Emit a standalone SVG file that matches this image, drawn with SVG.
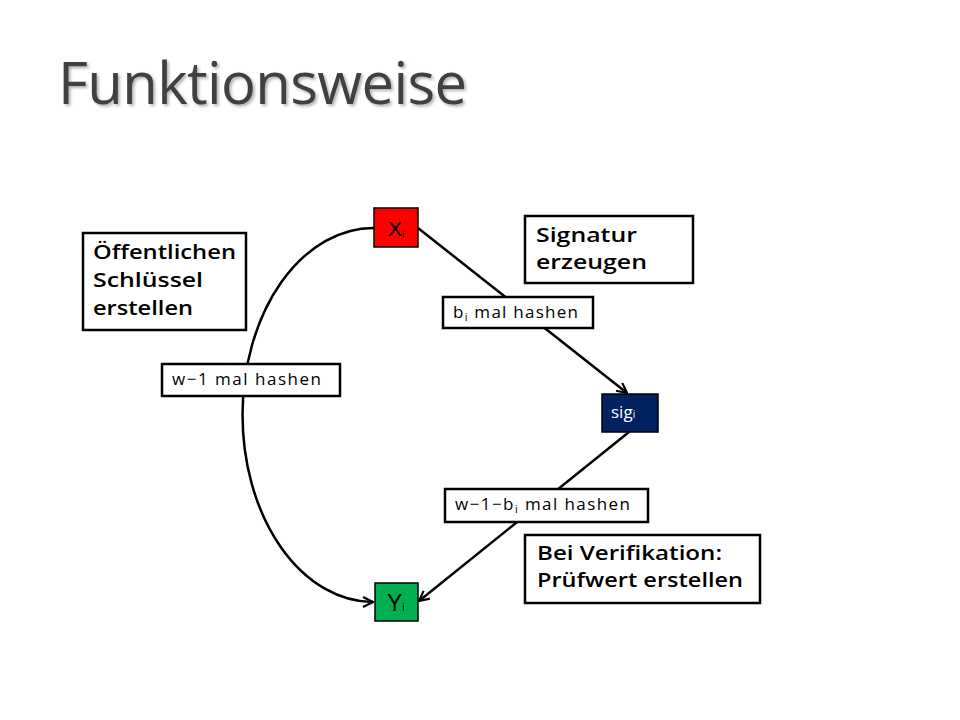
<svg xmlns="http://www.w3.org/2000/svg" width="960" height="720" viewBox="0 0 960 720">
<defs>
<marker id="arr" viewBox="0 0 12 12" refX="11" refY="6" markerWidth="12" markerHeight="12" markerUnits="userSpaceOnUse" orient="auto">
<path d="M1,1 L11,6 L1,11" fill="none" stroke="#000" stroke-width="2.2"/>
</marker>
<filter id="shadow" x="-5%" y="-20%" width="110%" height="140%">
<feDropShadow dx="2" dy="2" stdDeviation="1.5" flood-color="#000" flood-opacity="0.3"/>
</filter>
</defs>
<style>
.box{fill:#fff;stroke:#000;stroke-width:2.5}
.big{font-family:"Open Sans","DejaVu Sans",sans-serif;font-size:20px;font-weight:600;fill:#000}
.sm{font-family:"Open Sans","DejaVu Sans",sans-serif;font-size:17px;fill:#000}
.node{stroke:#000;stroke-width:1.5}
.edge{fill:none;stroke:#000;stroke-width:2.5}
</style>
<rect width="960" height="720" fill="#fff"/>
<g id="title">
<text x="58" y="104" font-family="Open Sans, DejaVu Sans, sans-serif" font-size="58" fill="#404040" textLength="409" lengthAdjust="spacing" filter="url(#shadow)">Funktionsweise</text>
</g>
<g id="connectors">
<path class="edge" d="M374,228 A131,187 0 0 0 373,602" marker-end="url(#arr)"/>
<path class="edge" d="M418,228 L627,393" marker-end="url(#arr)"/>
<path class="edge" d="M629,432 L419,601" marker-end="url(#arr)"/>
</g>
<g id="label-oeff">
<rect class="box" x="83" y="233" width="163" height="97"/>
<text class="big" x="93" y="259" textLength="143" lengthAdjust="spacingAndGlyphs">Öffentlichen</text>
<text class="big" x="93" y="287" textLength="110" lengthAdjust="spacingAndGlyphs">Schlüssel</text>
<text class="big" x="93" y="315" textLength="100" lengthAdjust="spacingAndGlyphs">erstellen</text>
</g>
<g id="label-sig">
<rect class="box" x="525" y="216" width="168" height="67"/>
<text class="big" x="536" y="242" textLength="101" lengthAdjust="spacingAndGlyphs">Signatur</text>
<text class="big" x="536" y="269" textLength="111" lengthAdjust="spacingAndGlyphs">erzeugen</text>
</g>
<g id="label-verif">
<rect class="box" x="525" y="535" width="235" height="68"/>
<text class="big" x="537" y="560" textLength="185" lengthAdjust="spacingAndGlyphs">Bei Verifikation:</text>
<text class="big" x="537" y="587" textLength="206" lengthAdjust="spacingAndGlyphs">Prüfwert erstellen</text>
</g>
<g id="label-bi">
<rect class="box" x="443" y="297" width="150" height="31"/>
<text class="sm" x="453" y="318" textLength="125" lengthAdjust="spacing">b<tspan font-size="11" dy="3">i</tspan><tspan dy="-3"> mal hashen</tspan></text>
</g>
<g id="label-w1">
<rect class="box" x="162" y="364" width="178" height="32"/>
<text class="sm" x="172" y="385" textLength="149" lengthAdjust="spacing">w−1 mal hashen</text>
</g>
<g id="label-w1bi">
<rect class="box" x="445" y="489" width="203" height="33"/>
<text class="sm" x="455" y="510" textLength="175" lengthAdjust="spacing">w−1−b<tspan font-size="11" dy="3">i</tspan><tspan dy="-3"> mal hashen</tspan></text>
</g>
<g id="node-x">
<rect class="node" x="374" y="208" width="44" height="39" fill="#ff0000"/>
<text x="388" y="236" font-family="Liberation Sans, Arial, sans-serif" font-size="21" fill="#000">X<tspan font-size="9" dy="2">i</tspan></text>
</g>
<g id="node-sig">
<rect class="node" x="602" y="394" width="56" height="38" fill="#002060"/>
<text x="611" y="418" font-family="Open Sans, DejaVu Sans, sans-serif" font-size="17" fill="#fff">sig<tspan font-size="10">i</tspan></text>
</g>
<g id="node-y">
<rect class="node" x="375" y="583" width="43" height="38" fill="#00b050"/>
<text x="387" y="611" font-family="Liberation Sans, Arial, sans-serif" font-size="23" fill="#000">Y<tspan font-size="10">i</tspan></text>
</g>
</svg>
